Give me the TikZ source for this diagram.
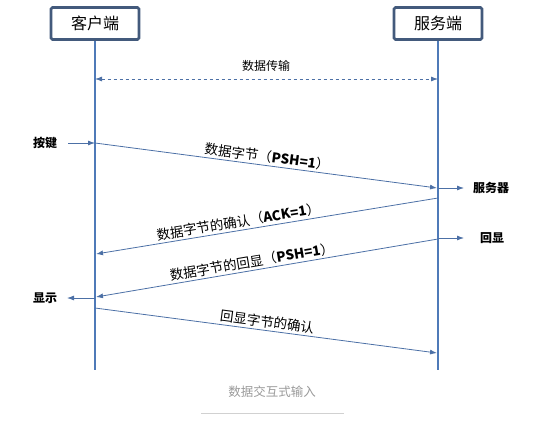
\documentclass[tikz,border=0pt]{standalone}
\usepackage{fontspec}
\setmainfont{Noto Sans CJK SC}
\usetikzlibrary{arrows.meta}
\definecolor{lifec}{HTML}{4F7AB8}
\definecolor{boxc}{HTML}{435A7C}
\definecolor{arrc}{HTML}{4C70A6}
\definecolor{capc}{HTML}{9A9A9A}
\tikzset{
  actor/.style={draw=boxc, line width=2.6pt, fill=white, rounded corners=1.5pt,
    minimum width=88pt, minimum height=32pt, inner sep=0pt, font=\fontsize{16}{18}\selectfont},
  life/.style={draw=lifec, line width=2.3pt},
  msg/.style={draw=arrc, line width=0.8pt, -{Latex[length=7pt,width=5pt]}},
  msglabel/.style={sloped, above, inner sep=2pt, font=\fontsize{13.5}{15}\selectfont},
  side/.style={font=\bfseries\fontsize{12}{14}\selectfont, inner sep=0pt},
}
\begin{document}
\begin{tikzpicture}[x=1pt,y=-1pt]
\useasboundingbox (0,0) rectangle (543,423);
% lifelines
\coordinate (ctop) at (95,40);
\coordinate (cbot) at (95,370);
\coordinate (stop) at (438,40);
\coordinate (sbot) at (438,370);
\draw[life] (ctop) -- (cbot);
\draw[life] (stop) -- (sbot);
\node[actor] (client) at (95,23.5) {客户端};
\node[actor] (server) at (438,23.5) {服务端};
% dashed transfer
\coordinate (d1) at (95,79);
\coordinate (d2) at (438,79);
\draw[draw=arrc, line width=0.8pt, dashed, {Latex[length=7pt,width=5pt]}-{Latex[length=7pt,width=5pt]}] (d1) -- (d2);
\node[font=\fontsize{12}{14}\selectfont] (dlabel) at (266,66) {数据传输};
% message endpoints
\coordinate (a1) at (95,143);
\coordinate (b1) at (437,188);
\coordinate (b2) at (438,198);
\coordinate (a2) at (96,254);
\coordinate (b3) at (438,239);
\coordinate (a3) at (96,297);
\coordinate (a4) at (95,308);
\coordinate (b4) at (437,353);
\draw[msg] (a1) -- node[msglabel, pos=0.5] {数据字节（\textbf{PSH=1}）} (b1);
\draw[msg] (b2) -- node[msglabel, pos=0.58] {数据字节的确认（\textbf{ACK=1}）} (a2);
\draw[msg] (b3) -- node[msglabel, pos=0.54] {数据字节的回显（\textbf{PSH=1}）} (a3);
\draw[msg] (a4) -- node[msglabel, pos=0.5] {回显字节的确认} (b4);
% side events
\node[side] (key) at (45,143) {按键};
\node[side] (srv) at (491,188) {服务器};
\node[side] (echo) at (492,238) {回显};
\node[side] (show) at (45,298) {显示};
\coordinate (k1) at (68,143);
\coordinate (s1) at (438,188);
\coordinate (s2) at (464,188);
\coordinate (e1) at (438,238);
\coordinate (e2) at (464,238);
\coordinate (w1) at (95,298);
\coordinate (w2) at (67,298);
\draw[msg] (k1) -- (a1);
\draw[msg] (s1) -- (s2);
\draw[msg] (e1) -- (e2);
\draw[msg] (w1) -- (w2);
% caption
\node[text=capc, font=\fontsize{12.5}{14}\selectfont] (cap) at (272,392) {数据交互式输入};
\coordinate (u1) at (201,413);
\coordinate (u2) at (344,413);
\draw[draw=black!18, line width=0.9pt] (u1) -- (u2);
\end{tikzpicture}
\end{document}
